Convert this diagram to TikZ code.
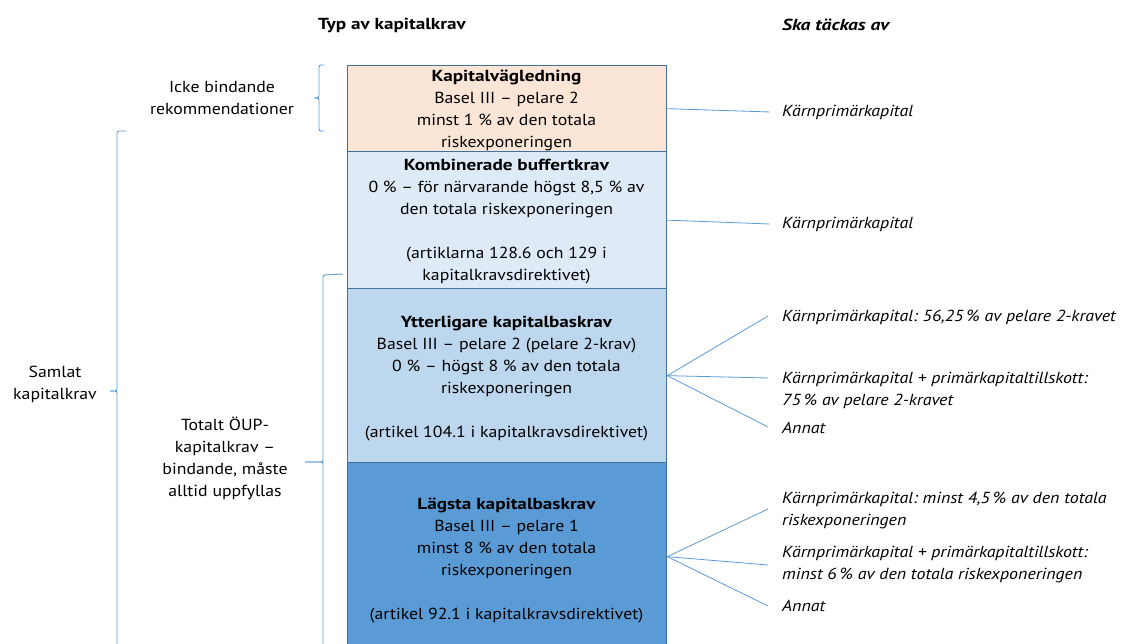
\documentclass[tikz,border=0pt]{standalone}
\usepackage{fontspec}
\setmainfont{PT Sans}[FakeStretch=1.11,BoldFeatures={FakeStretch=1.2},ItalicFeatures={FakeStretch=1.12},BoldItalicFeatures={FakeStretch=1.22}]
\frenchspacing
\definecolor{peach}{HTML}{FBE5D6}
\definecolor{lblue}{HTML}{DEEBF7}
\definecolor{mblue}{HTML}{BDD7EE}
\definecolor{dblue}{HTML}{5B9BD5}
\definecolor{bordc}{HTML}{41719C}
\definecolor{linec}{HTML}{5B9BD5}
\newcommand{\pct}{\hspace{0.2em}\%}
\begin{document}
\begin{tikzpicture}[x=1pt,y=-1pt,
  box/.style={draw=bordc,line width=1.3pt,rectangle,anchor=north west,minimum width=319pt,inner sep=0pt},
  boxtext/.style={align=center,inner sep=0pt,font=\fontsize{16}{22}\selectfont},
  lab/.style={align=center,inner sep=0pt,font=\fontsize{16}{22}\selectfont},
  rtext/.style={align=left,anchor=west,inner sep=0pt,font=\fontsize{16}{22}\selectfont\itshape},
  conn/.style={draw=linec,line width=0.8pt},
  brack/.style={draw=linec,line width=0.9pt,rounded corners=2pt}]
\useasboundingbox (0,0) rectangle (1123,644);
\clip (0,0) rectangle (1123,644);
% headers
\node[lab,font=\fontsize{16}{22}\selectfont\bfseries] (h1) at (392,25) {Typ av kapitalkrav};
\node[rtext,font=\fontsize{16}{22}\selectfont\bfseries\itshape] (h2) at (782,25) {Ska täckas av};
% boxes
\node[box,fill=peach,minimum height=86pt] (b1) at (347,65) {};
\node[box,fill=lblue,minimum height=137pt] (b2) at (347,151) {};
\node[box,fill=mblue,minimum height=174pt] (b3) at (347,288) {};
\node[box,fill=dblue,minimum height=188pt] (b4) at (347,462) {};
% box texts
\node[boxtext] (t1) at (506.5,110) {\textbf{Kapitalvägledning}\\Basel III – pelare 2\\minst 1 \% av den totala\\riskexponeringen};
\node[boxtext] (t2) at (506.5,222) {\textbf{Kombinerade buffertkrav}\\0 \% – för närvarande högst 8,5 \% av\\den totala riskexponeringen\\[22pt](artiklarna 128.6 och 129 i\\kapitalkravsdirektivet)};
\node[boxtext] (t3) at (506.5,379) {\textbf{Ytterligare kapitalbaskrav}\\Basel III – pelare 2 (pelare 2-krav)\\0 \% – högst 8 \% av den totala\\riskexponeringen\\[22pt](artikel 104.1 i kapitalkravsdirektivet)};
\node[boxtext] (t4) at (506.5,560) {\textbf{Lägsta kapitalbaskrav}\\Basel III – pelare 1\\minst 8 \% av den totala\\riskexponeringen\\[22pt](artikel 92.1 i kapitalkravsdirektivet)};
% left labels
\node[lab] (l1) at (222,98) {Icke bindande\\rekommendationer};
\node[lab] (l2) at (55,384) {Samlat\\kapitalkrav};
\node[lab] (l3) at (225,458) {Totalt ÖUP-\\kapitalkrav –\\bindande, måste\\alltid uppfyllas};
% brackets
\draw[brack] (324,65) -- (319,65) -- (319,98) -- (314,98);
\draw[brack] (314,98) -- (319,98) -- (319,131) -- (324,131);
\draw[brack] (126,131) -- (117,131) -- (117,391) -- (110,391);
\draw[brack] (110,391) -- (117,391) -- (117,660);
\draw[brack] (343,274) -- (323,275) -- (323,462) -- (305,462);
\draw[brack] (305,462) -- (323,462) -- (323,660);
% right texts
\node[rtext] (r1) at (782,112) {Kärnprimärkapital};
\node[rtext] (r2) at (782,224) {Kärnprimärkapital};
\node[rtext] (r3) at (782,317) {Kärnprimärkapital: 56,25\pct{} av pelare 2-kravet};
\node[rtext] (r4) at (782,390) {Kärnprimärkapital + primärkapitaltillskott:\\75\pct{} av pelare 2-kravet};
\node[rtext] (r5) at (782,428) {Annat};
\node[rtext] (r6) at (782,510) {Kärnprimärkapital: minst 4,5\pct{} av den totala\\riskexponeringen};
\node[rtext] (r7) at (782,565) {Kärnprimärkapital + primärkapitaltillskott:\\minst 6\pct{} av den totala riskexponeringen};
\node[rtext] (r8) at (782,606) {Annat};
% connector ends
\coordinate (e1) at (770,112);
\coordinate (e2) at (770,224);
\coordinate (e3) at (768,316);
\coordinate (e4) at (768,378);
\coordinate (e5) at (768,427);
\coordinate (e6) at (768,509);
\coordinate (e7) at (768,565);
\coordinate (e8) at (768,606);
\draw[conn] (b1.east) -- (e1);
\draw[conn] (b2.east) -- (e2);
\draw[conn] (b3.east) -- (e3);
\draw[conn] (b3.east) -- (e4);
\draw[conn] (b3.east) -- (e5);
\draw[conn] (b4.east) -- (e6);
\draw[conn] (b4.east) -- (e7);
\draw[conn] (b4.east) -- (e8);
\end{tikzpicture}
\end{document}
